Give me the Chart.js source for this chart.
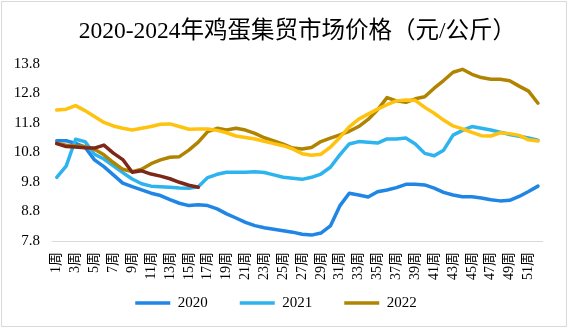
<!DOCTYPE html>
<html>
<head>
<meta charset="utf-8">
<title>2020-2024年鸡蛋集贸市场价格</title>
<script src="https://cdn.jsdelivr.net/npm/chart.js@4/dist/chart.umd.min.js"></script>
<style>
    html, body { margin: 0; padding: 0; background: #fff; }
    #chart-box {
        position: absolute; left: 1px; top: 1px;
        width: 566px; height: 326px;
        box-sizing: border-box;
        border: 1px solid #d9d9d9;
    }
    #price-chart { display: block; }
</style>
</head>
<body>
<div id="chart-box"><canvas id="price-chart" width="564" height="324"></canvas></div>
<script>
(function () {
    'use strict';

    // Week labels 1周 .. 52周
    var weeks = [];
    for (var w = 1; w <= 52; w++) { weeks.push(w + '周'); }

    var seriesNames = ['2020', '2021', '2022', '2023', '2024'];

    // 元/公斤
    var price2020 = [11.20, 11.20, 11.11, 10.98, 10.55, 10.32, 10.04, 9.76, 9.64, 9.53,
        9.42, 9.34, 9.20, 9.08, 9.00, 9.03, 9.00, 8.89, 8.72, 8.58,
        8.43, 8.32, 8.25, 8.20, 8.15, 8.10, 8.03, 8.00, 8.07, 8.31,
        8.99, 9.42, 9.36, 9.29, 9.47, 9.53, 9.61, 9.72, 9.72, 9.70,
        9.59, 9.45, 9.36, 9.30, 9.30, 9.26, 9.20, 9.16, 9.18, 9.31,
        9.48, 9.66];
    var price2021 = [9.96, 10.34, 11.25, 11.17, 10.74, 10.58, 10.35, 10.12, 9.90, 9.74,
        9.66, 9.64, 9.62, 9.60, 9.59, 9.64, 9.95, 10.06, 10.13, 10.13,
        10.13, 10.15, 10.12, 10.04, 9.96, 9.93, 9.89, 9.96, 10.07, 10.30,
        10.72, 11.09, 11.17, 11.15, 11.12, 11.26, 11.26, 11.29, 11.09, 10.77,
        10.69, 10.88, 11.39, 11.55, 11.68, 11.62, 11.56, 11.49, 11.41, 11.35,
        11.29, 11.22];
    var price2022 = [11.11, 11.05, 11.02, 11.00, 10.91, 10.72, 10.46, 10.23, 10.15, 10.23,
        10.42, 10.55, 10.64, 10.66, 10.88, 11.15, 11.51, 11.62, 11.56, 11.62,
        11.56, 11.45, 11.30, 11.19, 11.08, 10.95, 10.92, 10.97, 11.17, 11.29,
        11.40, 11.52, 11.68, 11.92, 12.25, 12.66, 12.55, 12.50, 12.62, 12.69,
        12.98, 13.24, 13.52, 13.62, 13.45, 13.34, 13.28, 13.28, 13.23, 13.05,
        12.88, 12.47];
    var price2023 = [12.24, 12.27, 12.39, 12.22, 12.02, 11.82, 11.70, 11.62, 11.56, 11.62,
        11.68, 11.76, 11.77, 11.68, 11.59, 11.60, 11.60, 11.55, 11.47, 11.36,
        11.31, 11.26, 11.18, 11.10, 11.03, 10.92, 10.76, 10.71, 10.74, 10.98,
        11.31, 11.67, 11.93, 12.10, 12.27, 12.42, 12.55, 12.58, 12.57, 12.33,
        12.13, 11.90, 11.70, 11.60, 11.48, 11.37, 11.36, 11.47, 11.44, 11.38,
        11.23, 11.19];
    var price2024 = [11.10, 11.00, 10.99, 10.96, 10.95, 11.05, 10.78, 10.56, 10.13, 10.18,
        10.07, 10.00, 9.91, 9.79, 9.69, 9.62];

    var yTicks = [7.8, 8.8, 9.8, 10.8, 11.8, 12.8, 13.8];

    var lineColors = ['#1f86e5', '#2db3ee', '#b08400', '#ffc20e', '#7c2718'];
    var allSeries = [price2020, price2021, price2022, price2023, price2024];

    var serif = '"Liberation Serif", "Times New Roman", "Noto Sans CJK SC", serif';

    var datasets = allSeries.map(function (values, i) {
        return {
            label: seriesNames[i],
            data: values,
            borderColor: lineColors[i],
            backgroundColor: lineColors[i],
            borderWidth: 3.5,
            borderCapStyle: 'round',
            borderJoinStyle: 'round',
            pointRadius: 0,
            tension: 0,
            order: 5 - i // later years drawn on top
        };
    });

    // Legend row sits closer to the week labels than its padding allows,
    // so move its top edge up once the layout is done
    var legendLift = {
        id: 'legendLift',
        afterLayout: function (chart) {
            var lift = 22.5;
            chart.legend.top -= lift;
            chart.legend.height += lift;
        }
    };

    new Chart(document.getElementById('price-chart').getContext('2d'), {
        type: 'line',
        data: { labels: weeks, datasets: datasets },
        plugins: [legendLift],
        options: {
            responsive: false,
            animation: false,
            layout: { padding: { left: 0, right: 16, top: 0, bottom: 0 } },
            plugins: {
                title: {
                    display: true,
                    text: '2020-2024年鸡蛋集贸市场价格（元/公斤）',
                    fullSize: false,
                    color: '#000',
                    font: { family: serif, size: 23.5, weight: 'normal' },
                    padding: { top: 15.9, bottom: 17.9 }
                },
                legend: {
                    position: 'bottom',
                    maxHeight: 40,
                    labels: {
                        usePointStyle: true,
                        pointStyle: 'line',
                        pointStyleWidth: 35,
                        padding: 32,
                        color: '#000',
                        font: { family: serif, size: 15 },
                        filter: function (item) { return item.datasetIndex < 3; },
                        sort: function (a, b) { return a.datasetIndex - b.datasetIndex; }
                    }
                },
                tooltip: { enabled: false }
            },
            scales: {
                x: {
                    offset: true,
                    grid: { display: false, drawTicks: false },
                    border: { display: true, color: '#d9d9d9', width: 1 },
                    ticks: {
                        autoSkip: false,
                        minRotation: 90,
                        maxRotation: 90,
                        padding: 11,
                        color: '#000',
                        font: { family: serif, size: 14 },
                        callback: function (value, index) {
                            return index % 2 === 0 ? weeks[index] : '';
                        }
                    },
                    afterFit: function (scale) { scale.height = 45; }
                },
                y: {
                    min: yTicks[0],
                    max: yTicks[yTicks.length - 1],
                    grid: { display: false, drawTicks: false },
                    border: { display: false },
                    afterBuildTicks: function (scale) {
                        scale.ticks = yTicks.map(function (v) { return { value: v }; });
                    },
                    ticks: {
                        padding: 12,
                        color: '#000',
                        font: { family: serif, size: 15 },
                        callback: function (value) { return Number(value).toFixed(1); }
                    },
                    afterFit: function (scale) { scale.width = 50; }
                }
            }
        }
    });
})();
</script>
</body>
</html>
